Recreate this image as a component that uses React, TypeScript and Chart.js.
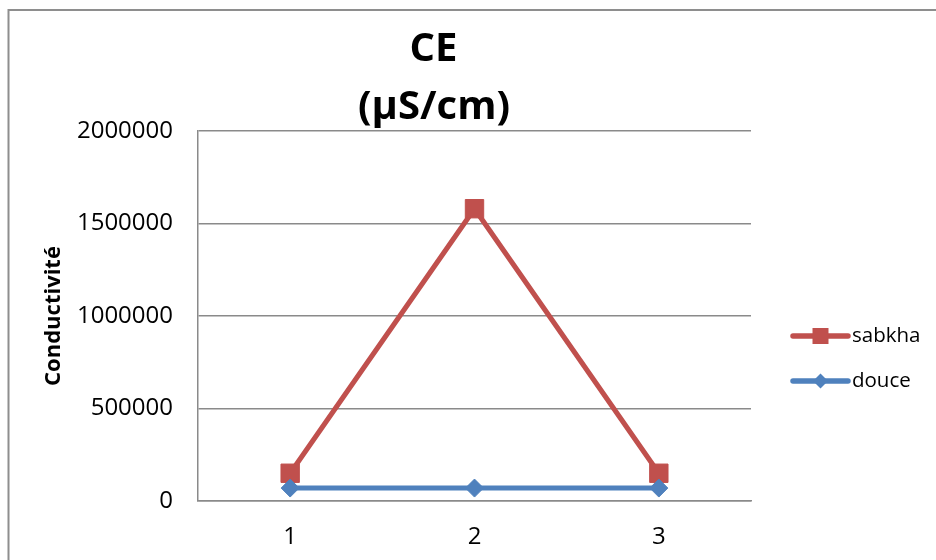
import React, { useEffect, useRef } from 'react';
import { Chart, registerables } from 'chart.js';

Chart.register(...registerables);

const categories = ['1', '2', '3'];
const seriesNames = ['sabkha', 'douce'];
const sabkhaValues = [150000, 1580000, 150000];
const douceValues = [70000, 70000, 70000];
const yTickValues = [0, 500000, 1000000, 1500000, 2000000];
const titleLines = ['CE', '(µS/cm)'];
const yAxisTitle = 'Conductivité';

const FONT = '"Open Sans", "Noto Sans", sans-serif';
const RED = '#C0504D';
const BLUE = '#4F81BD';
const GRID = '#8a8a8a';

const framePlugin = {
  id: 'frame',
  beforeDraw(chart: any) {
    const ctx = chart.ctx;
    ctx.save();
    ctx.fillStyle = '#fff';
    ctx.fillRect(0, 0, chart.width, chart.height);
    ctx.strokeStyle = '#8e8e8e';
    ctx.lineWidth = 2;
    ctx.strokeRect(8.5, 10, 2000, 2000);
    ctx.restore();
  },
};

const titlePlugin = {
  id: 'customTitle',
  afterDraw(chart: any) {
    const ctx = chart.ctx;
    ctx.save();
    ctx.font = `bold 40px ${FONT}`;
    ctx.fillStyle = '#000';
    ctx.textAlign = 'center';
    ctx.textBaseline = 'alphabetic';
    ctx.fillText(titleLines[0], 433.5, 61);
    ctx.fillText(titleLines[1], 434, 119);
    ctx.restore();
  },
};

const legendPlugin = {
  id: 'customLegend',
  afterDraw(chart: any) {
    const ctx = chart.ctx;
    const rows = [
      { label: seriesNames[0], color: RED, style: 'rect', y: 336 },
      { label: seriesNames[1], color: BLUE, style: 'diamond', y: 381 },
    ];
    ctx.save();
    rows.forEach((r) => {
      const x1 = 793;
      const x2 = 848;
      const xm = (x1 + x2) / 2;
      ctx.strokeStyle = r.color;
      ctx.lineWidth = 5.5;
      ctx.lineCap = 'round';
      ctx.beginPath();
      ctx.moveTo(x1, r.y);
      ctx.lineTo(x2, r.y);
      ctx.stroke();
      ctx.fillStyle = r.color;
      ctx.beginPath();
      if (r.style === 'rect') {
        ctx.rect(xm - 8, r.y - 8, 16, 16);
      } else {
        const d = 7.5;
        ctx.moveTo(xm - d, r.y);
        ctx.lineTo(xm, r.y - d);
        ctx.lineTo(xm + d, r.y);
        ctx.lineTo(xm, r.y + d);
        ctx.closePath();
      }
      ctx.fill();
      ctx.fillStyle = '#000';
      ctx.font = `20.5px ${FONT}`;
      ctx.textAlign = 'left';
      ctx.textBaseline = 'middle';
      ctx.fillText(r.label, 852, r.y);
    });
    ctx.restore();
  },
};

export default function App() {
  const ref = useRef<HTMLCanvasElement | null>(null);

  useEffect(() => {
    if (!ref.current) return;
    const chart = new Chart(ref.current, {
      type: 'line',
      data: {
        labels: categories,
        datasets: [
          {
            label: seriesNames[0],
            data: sabkhaValues,
            borderColor: RED,
            backgroundColor: RED,
            borderWidth: 5,
            pointStyle: 'rect',
            pointRadius: 13,
            pointBorderWidth: 1,
            pointBackgroundColor: RED,
            pointBorderColor: RED,
            tension: 0,
            order: 2,
          },
          {
            label: seriesNames[1],
            data: douceValues,
            borderColor: BLUE,
            backgroundColor: BLUE,
            borderWidth: 5,
            pointStyle: 'rectRot',
            pointRadius: 9,
            pointBorderWidth: 1,
            pointBackgroundColor: BLUE,
            pointBorderColor: BLUE,
            tension: 0,
            order: 1,
          },
        ],
      },
      options: {
        animation: false,
        responsive: false,
        maintainAspectRatio: false,
        events: [],
        layout: { padding: { left: 41, right: 185, top: 131, bottom: 0 } },
        plugins: {
          legend: { display: false },
          title: { display: false },
          tooltip: { enabled: false },
        },
        scales: {
          x: {
            type: 'category',
            offset: true,
            grid: { display: false, drawTicks: false },
            border: { display: true, color: GRID, width: 1.5 },
            ticks: {
              color: '#000',
              font: { family: FONT, size: 24 },
              padding: 22,
              maxRotation: 0,
            },
            afterFit: (scale: any) => {
              scale.height = 59;
            },
          },
          y: {
            min: 0,
            max: 2000000,
            grid: { color: GRID, lineWidth: 1.5, drawTicks: false },
            border: { display: true, color: GRID, width: 1.5 },
            afterBuildTicks: (scale: any) => {
              scale.ticks = yTickValues.map((v) => ({ value: v }));
            },
            ticks: {
              color: '#000',
              font: { family: FONT, size: 24 },
              padding: 25,
              callback: (v: any) => String(v),
            },
            title: {
              display: true,
              text: yAxisTitle,
              color: '#000',
              font: { family: FONT, size: 22, weight: 'bold' },
              padding: 0,
            },
            afterFit: (scale: any) => {
              scale.width = 157;
            },
          },
        },
      },
      plugins: [framePlugin, titlePlugin, legendPlugin],
    });
    return () => chart.destroy();
  }, []);

  return (
    <div style={{ position: 'fixed', left: 0, top: 0, width: 936, height: 560 }}>
      <canvas ref={ref} width={936} height={560} style={{ width: 936, height: 560 }} />
    </div>
  );
}
